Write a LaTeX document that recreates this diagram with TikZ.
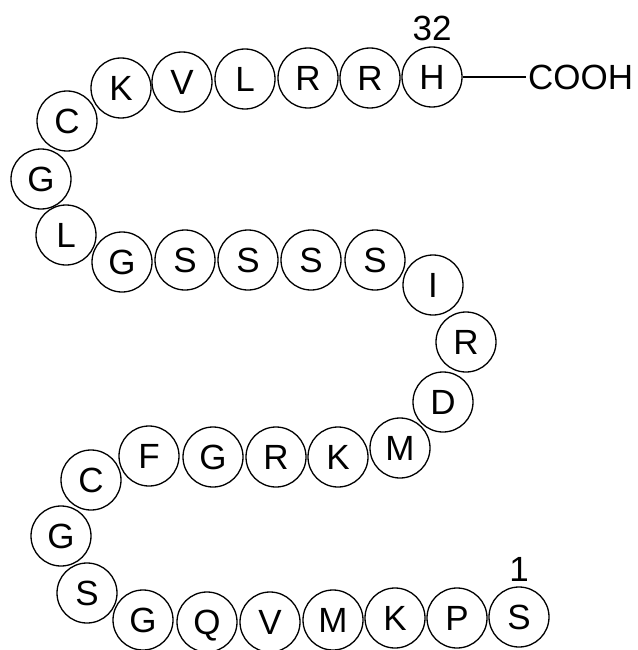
\documentclass[tikz,border=0pt]{standalone}
\usepackage{fontspec}
\setmainfont{Liberation Sans}
\usetikzlibrary{positioning}

\tikzset{
  res/.style={circle, draw, line width=1.3pt, minimum size=60pt, inner sep=0pt,
    font=\fontsize{35}{35}\selectfont, text height=25pt, text depth=0pt},
  num/.style={inner sep=0pt, font=\fontsize{35}{35}\selectfont},
  end/.style={inner sep=2pt, font=\fontsize{35}{35}\selectfont}
}

\begin{document}
\begin{tikzpicture}[x=1pt, y=-1pt]
    \useasboundingbox (0,0) rectangle (637,650);

    % residues, numbered from the N-terminus
    \foreach \i/\aa/\x/\y in {
        1/S/519/617, 2/P/457/618, 3/K/395/618, 4/M/333/620,
        5/V/270/622, 6/Q/207/622, 7/G/143/620, 8/S/87/593,
        9/G/61/536, 10/C/91/480, 11/F/149/456, 12/G/213/457,
        13/R/276/457, 14/K/338/457, 15/M/400/448, 16/D/443/402,
        17/R/466/342, 18/I/433/285, 19/S/375/260, 20/S/311/260,
        21/S/248/260, 22/S/185/260, 23/G/122/262, 24/L/66/235,
        25/G/41/179, 26/C/67/121, 27/K/121/88, 28/V/182/82,
        29/L/245/79, 30/R/308/78, 31/R/370/78, 32/H/432/77}
        \node[res] (r\i) at (\x,\y) {\aa};

    % numbering
    \node[num, above=5pt of r1] (n1) {1};
    \node[num, above=5pt of r32] (n32) {32};

    % C-terminus
    \node[end, right=94pt of r32.center, anchor=west] (cooh) {COOH};
    \draw[line width=1.1pt] (r32) -- (cooh);
\end{tikzpicture}
\end{document}
